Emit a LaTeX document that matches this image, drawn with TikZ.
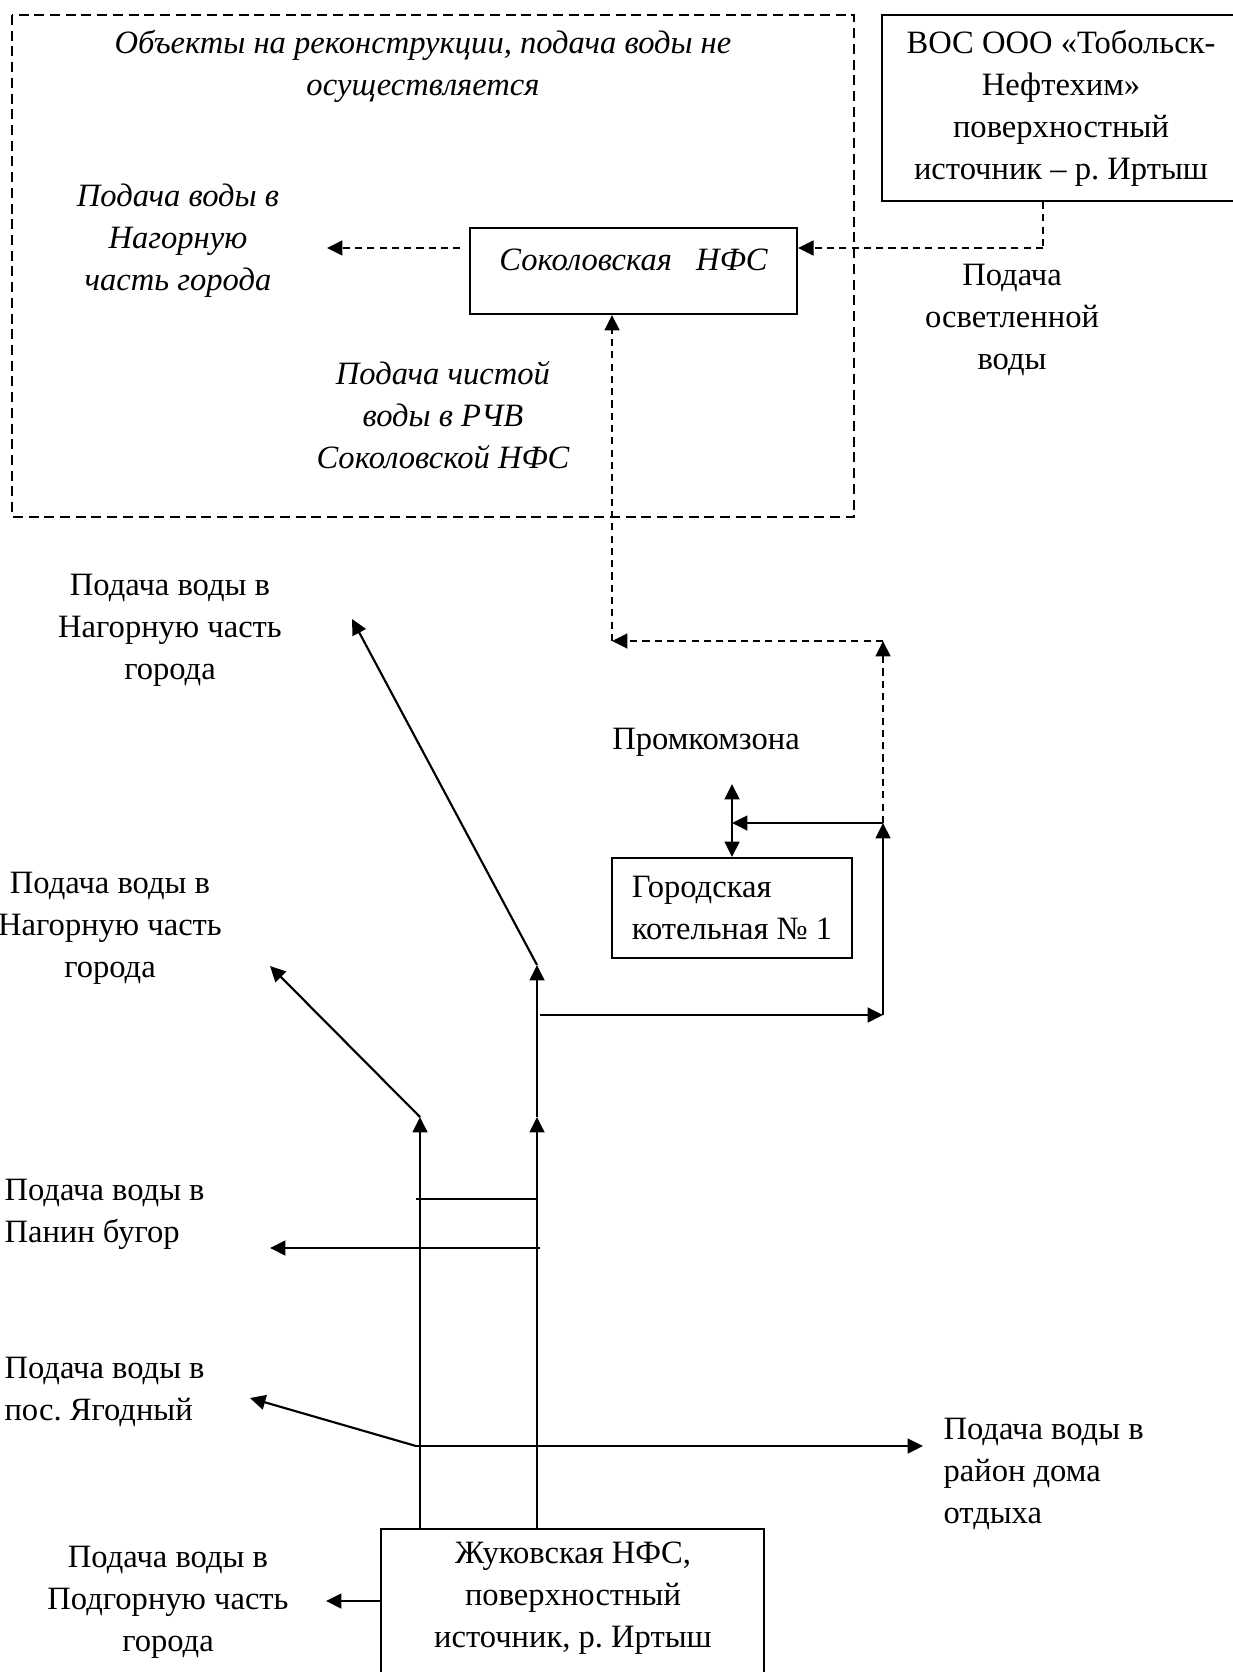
\documentclass[tikz,border=0pt]{standalone}
\usepackage{fontspec}
\setmainfont{Liberation Serif}
\usetikzlibrary{arrows.meta}
\frenchspacing

\begin{document}
\begin{tikzpicture}[x=0.35pt, y=-0.35pt,
    every node/.style={font=\fontsize{11.4}{14.7}\selectfont},
    box/.style={draw, line width=0.7pt, inner sep=0pt},
    txt/.style={align=center, inner sep=0pt},
    itxt/.style={txt, font=\fontsize{11.4}{14.7}\selectfont\itshape},
    ltxt/.style={align=left, inner sep=0pt, anchor=west},
    pipe/.style={line width=0.75pt},
    flow/.style={pipe, -{Triangle[length=5.4pt,width=5.2pt]}},
    dpipe/.style={pipe, dash pattern=on 2.5pt off 1.8pt},
    dflow/.style={flow, dash pattern=on 2.5pt off 1.8pt}]
  \useasboundingbox (0,0) rectangle (1232,1672);
  % objects under reconstruction
  \draw[pipe, dash pattern=on 3.5pt off 2pt] (12,15) rectangle (854,517);
  \node[itxt] (recon) at (423,66.5) {Объекты на реконструкции, подача воды не\\осуществляется};
  \node[itxt] (nagi) at (178,241) {Подача воды в\\Нагорную\\часть города};
  \node[itxt] (rchv) at (443,415.5) {Подача чистой\\воды в РЧВ\\Соколовской НФС};
  \node[box, minimum width=114.5pt, minimum height=30.1pt, text height=9pt, text depth=9pt] (sok) at (633.5,271) {\itshape Соколовская\hspace{8.5pt}НФС};

  \node[box, minimum width=125pt, minimum height=65.1pt, align=center] (vos) at (1061,108) {ВОС ООО «Тобольск-\\Нефтехим»\\поверхностный\\источник – р. Иртыш};
  \node[txt] (osv) at (1012,320) {Подача\\осветленной\\воды};
  \node[txt] (prom) at (706,742) {Промкомзона};
  \node[box, minimum width=84pt, minimum height=35pt, align=left] (gor) at (732,908) {Городская\\котельная №~1};
  \node[box, minimum width=134pt, minimum height=60pt] (zhuk) at (572.5,1614.5) {};
  \node[txt] (zhukt) at (573,1598) {Жуковская НФС,\\поверхностный\\источник, р. Иртыш};

  \node[txt] (nag1) at (170,630) {Подача воды в\\Нагорную часть\\города};
  \node[txt] (nag2) at (110,928) {Подача воды в\\Нагорную часть\\города};
  \node[ltxt] (panin) at (4,1214) {Подача воды в\\Панин бугор};
  \node[ltxt] (yag) at (4,1392) {Подача воды в\\пос. Ягодный};
  \node[ltxt] (dom) at (943,1474) {Подача воды в\\район дома\\отдыха};
  \node[txt] (podg) at (168,1602) {Подача воды в\\Подгорную часть\\города};

  % dashed supply
  \coordinate (vosd) at (1043,248);
  \coordinate (nagtip) at (327,248);
  \draw[dpipe] (vos.south -| vosd) -- (vosd);
  \draw[dflow] (vosd) -- (sok.east |- vosd);
  \draw[dflow] ([xshift=-3pt]sok.west |- nagtip) -- (nagtip);

  \coordinate (r0) at (540,1015);
  \coordinate (r1) at (883,1015);
  \coordinate (r2) at (883,823);
  \coordinate (r3) at (883,641);
  \coordinate (r4) at (612,641);
  \coordinate (pz) at (732,784);
  \draw[flow] (r0) -- (r1);
  \draw[flow] (r1) -- (r2);
  \draw[flow] (r2) -- (gor.north |- r2);
  \draw[pipe, {Triangle[length=5.4pt,width=5.2pt]}-{Triangle[length=5.4pt,width=5.2pt]}] (pz) -- (gor.north);
  \draw[dflow] (r2) -- (r3);
  \draw[dflow] (r3) -- (r4);
  \draw[dflow] (r4) -- (sok.south -| r4);

  % risers from Zhukovskaya
  \coordinate (a1) at (420,1117);
  \coordinate (b1) at (537,1117);
  \coordinate (b2) at (537,965);
  \coordinate (n1tip) at (352,619);
  \coordinate (n2tip) at (270,966);
  \draw[flow] (zhuk.north -| a1) -- (a1);
  \draw[flow] (zhuk.north -| b1) -- (b1);
  \draw[flow] (b1) -- (b2);
  \draw[flow] (b2) -- (n1tip);
  \draw[flow] (a1) -- (n2tip);
  \coordinate (x1) at (416,1199);
  \draw[pipe] (x1) -- (b1 |- x1);
  \coordinate (p0) at (540,1248);
  \coordinate (ptip) at (270,1248);
  \draw[flow] (p0) -- (ptip);
  \coordinate (y0) at (416,1446);
  \coordinate (ytip) at (250,1398);
  \coordinate (dtip) at (923,1446);
  \draw[flow] (y0) -- (ytip);
  \draw[flow] (y0) -- (dtip);
  \coordinate (podtip) at (326,1601);
  \draw[flow] (zhuk.west |- podtip) -- (podtip);
\end{tikzpicture}
\end{document}
